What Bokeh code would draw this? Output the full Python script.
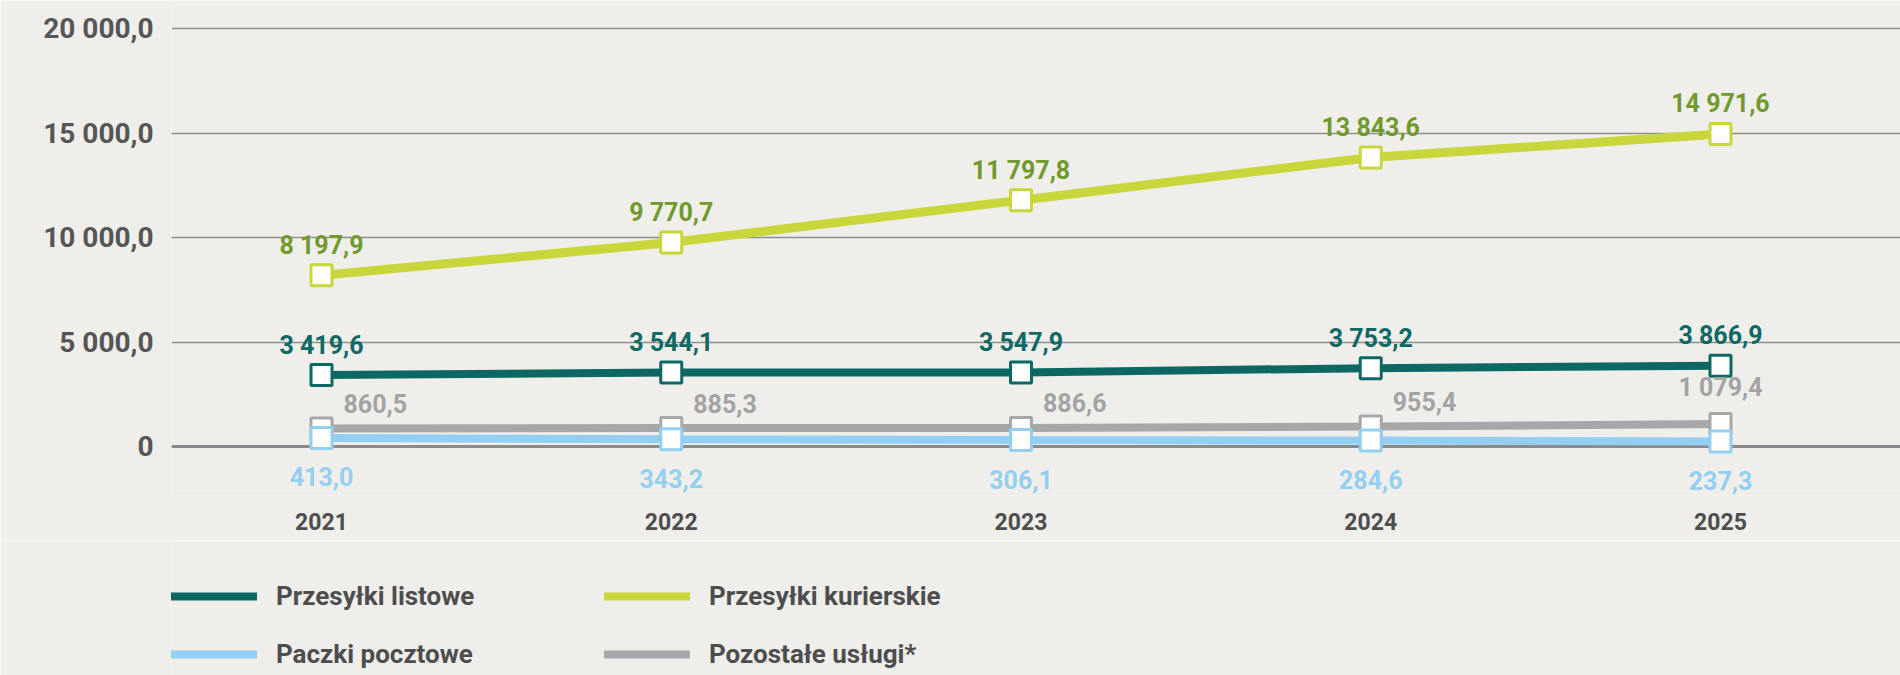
from bokeh.plotting import figure
from bokeh.layouts import column
from bokeh.models import ColumnDataSource, Range1d, FixedTicker, Span, Legend, LegendItem
from bokeh.embed import file_html
from bokeh.resources import INLINE
from bokeh.core.properties import value

# ---------------- data ----------------
years = [2021, 2022, 2023, 2024, 2025]
year_labels = ["2021", "2022", "2023", "2024", "2025"]
listowe = [3419.6, 3544.1, 3547.9, 3753.2, 3866.9]
kurierskie = [8197.9, 9770.7, 11797.8, 13843.6, 14971.6]
paczki = [413.0, 343.2, 306.1, 284.6, 237.3]
pozostale = [860.5, 885.3, 886.6, 955.4, 1079.4]
series_names = ["Przesyłki listowe", "Przesyłki kurierskie", "Paczki pocztowe", "Pozostałe usługi*"]
y_ticks = [0, 5000, 10000, 15000, 20000]
y_tick_labels = ["0", "5 000,0", "10 000,0", "15 000,0", "20 000,0"]


def pl(v):
    return f"{v:,.1f}".replace(",", " ").replace(".", ",")


BG = "#efeeea"
C_TEAL = "#0d6864"
C_LIME = "#c8d63b"
C_LIME_TXT = "#6f9a2b"
C_BLUE = "#92cff2"
C_GRAY = "#a7a7a7"
C_GRAY_TXT = "#a3a3a3"
AX_TXT = "#555555"
FONT = "Roboto"

p = figure(
    width=1900, height=540,
    x_range=Range1d(2020.5711, 2025.5147),
    y_range=Range1d(-2347, 21365),
    output_backend="svg", toolbar_location=None,
    min_border_left=171, min_border_right=0, min_border_top=0, min_border_bottom=45,
)
p.background_fill_color = BG
p.border_fill_color = BG
p.outline_line_color = None

# axes
p.xaxis.ticker = FixedTicker(ticks=years)
p.xaxis.major_label_overrides = dict(zip(years, year_labels))
p.xaxis.axis_line_color = None
p.xaxis.major_tick_line_color = None
p.xaxis.minor_tick_line_color = None
p.xaxis.major_tick_out = 0
p.xaxis.major_label_standoff = 17
p.xaxis.major_label_text_font = FONT
p.xaxis.major_label_text_font_style = "bold"
p.xaxis.major_label_text_font_size = "23px"
p.xaxis.major_label_text_color = "#4d4d4d"

p.yaxis.ticker = FixedTicker(ticks=y_ticks)
p.yaxis.major_label_overrides = dict(zip(y_ticks, y_tick_labels))
p.yaxis.axis_line_color = None
p.yaxis.major_tick_line_color = None
p.yaxis.minor_tick_line_color = None
p.yaxis.major_tick_out = 0
p.yaxis.major_label_standoff = 18
p.yaxis.major_label_text_font = FONT
p.yaxis.major_label_text_font_style = "bold"
p.yaxis.major_label_text_font_size = "28px"
p.yaxis.major_label_text_color = AX_TXT

p.xgrid.visible = False
p.ygrid.ticker = FixedTicker(ticks=y_ticks)
p.ygrid.grid_line_color = "#8e8e8e"
p.ygrid.grid_line_width = 1.5

p.add_layout(Span(location=0, dimension="width", line_color="#8a8a8a",
                  line_width=3, level="underlay"))

series = [
    (series_names[0], listowe, C_TEAL, 8),
    (series_names[1], kurierskie, C_LIME, 9),
    (series_names[2], paczki, C_BLUE, 8),
    (series_names[3], pozostale, C_GRAY, 8),
]

for name, vals, col, lw in [series[1], series[0], series[3], series[2]]:
    p.line(years, vals, line_color=col, line_width=lw, line_cap="round")

for name, vals, col, lw in [series[3], series[2], series[0], series[1]]:
    p.scatter(years, vals, marker="square", size=21, fill_color="white",
              line_color=col, line_width=3)


def add_labels(vals, color, align, xoff, yoff):
    src = ColumnDataSource(dict(
        x=years, y=vals, t=[pl(v) for v in vals],
        align=align, xo=xoff, yo=yoff))
    p.text(x="x", y="y", text="t", source=src, text_align="align",
           x_offset="xo", y_offset="yo", text_baseline="middle",
           text_font=value(FONT), text_font_style="bold",
           text_font_size="25px", text_color=color)


n = len(years)
add_labels(listowe, C_TEAL, ["center"] * n, [0] * n, [-30] * n)
add_labels(kurierskie, C_LIME_TXT, ["center"] * n, [0] * n, [-30] * n)
add_labels(paczki, C_BLUE, ["center"] * n, [0] * n, [39] * n)
add_labels(pozostale, C_GRAY_TXT, ["left"] * (n - 1) + ["center"],
           [22] * (n - 1) + [0], [-25] * (n - 1) + [-36])

# ---------------- legend strip ----------------
pl2 = figure(
    width=1900, height=135, x_range=Range1d(0, 1), y_range=Range1d(0, 1),
    x_axis_type=None, y_axis_type=None,
    output_backend="svg", toolbar_location=None,
    min_border_left=0, min_border_right=0, min_border_top=0, min_border_bottom=0,
)
pl2.background_fill_color = BG
pl2.border_fill_color = BG
pl2.outline_line_color = None

# the series drawn again (outside this strip's visible range) so the legend has glyphs
leg_r = {}
for name, vals, col, lw in series:
    leg_r[name] = pl2.line(years, vals, line_color=col, line_width=8, line_cap="round")

legend = Legend(
    items=[LegendItem(label=nm, renderers=[leg_r[nm]]) for nm in series_names],
    location=(0, 6), orientation="horizontal", ncols=2,
    glyph_width=86, glyph_height=30, label_height=30, label_width=300,
    label_standoff=19, spacing=28, padding=0, margin=0,
    border_line_color=None, background_fill_alpha=0,
    label_text_font=FONT, label_text_font_style="bold",
    label_text_font_size="26px", label_text_color="#4d4d4d",
)
pl2.add_layout(legend, "center")

layout = column(p, pl2, spacing=0)
open("out.html", "w").write(file_html(layout, INLINE))
